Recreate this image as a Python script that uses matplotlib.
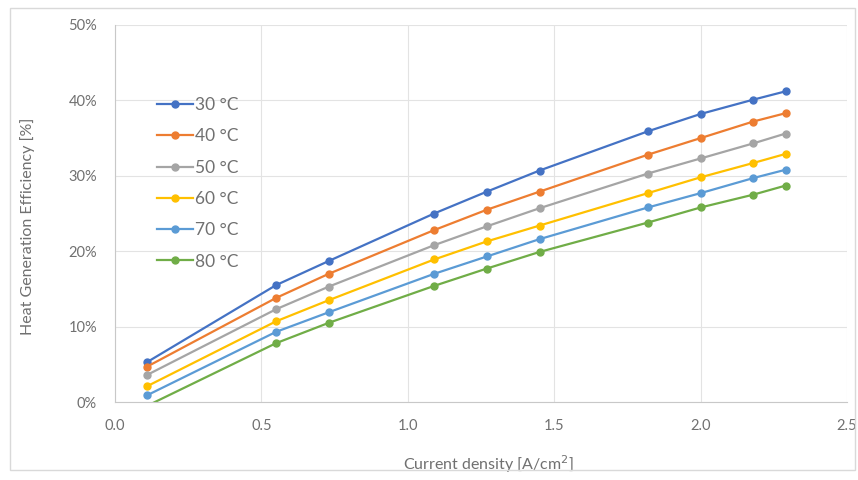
import matplotlib
matplotlib.use("Agg")
import matplotlib.pyplot as plt
from matplotlib.ticker import PercentFormatter, MultipleLocator
from matplotlib.patches import Rectangle

plt.rcParams['font.family'] = ['Lato', 'DejaVu Sans']

current_density = [0.11, 0.55, 0.73, 1.09, 1.27, 1.45, 1.82, 2.0, 2.18, 2.29]
eff_30 = [5.3, 15.5, 18.7, 25.0, 27.9, 30.7, 35.9, 38.2, 40.1, 41.2]
eff_40 = [4.7, 13.8, 17.0, 22.8, 25.5, 27.9, 32.8, 35.0, 37.2, 38.3]
eff_50 = [3.6, 12.3, 15.3, 20.8, 23.3, 25.7, 30.3, 32.3, 34.3, 35.6]
eff_60 = [2.1, 10.7, 13.5, 18.9, 21.3, 23.4, 27.7, 29.8, 31.7, 32.9]
eff_70 = [0.9, 9.3, 11.9, 17.0, 19.3, 21.6, 25.8, 27.7, 29.7, 30.8]
eff_80 = [-0.5, 7.8, 10.5, 15.4, 17.7, 19.9, 23.8, 25.8, 27.5, 28.7]

labels = ['30 °C', '40 °C', '50 °C', '60 °C', '70 °C', '80 °C']
series = [eff_30, eff_40, eff_50, eff_60, eff_70, eff_80]
colors = ['#4472C4', '#ED7D31', '#A5A5A5', '#FFC000', '#5B9BD5', '#70AD47']

txt = '#707070'

fig = plt.figure(figsize=(8.58, 4.8), dpi=100)
fig.patches.append(Rectangle((10/858, 10/480), 845/858, 462/480, transform=fig.transFigure,
                             fill=False, edgecolor='#D9D9D9', linewidth=1))
ax = fig.add_axes([115/858, 78/480, 732/858, 377/480])

for vals, lab, col in zip(series, labels, colors):
    ax.plot(current_density, vals, color=col, marker='o', markersize=5,
            linewidth=1.6, label=lab)

ax.set_xlim(0, 2.5)
ax.set_ylim(0, 50)
ax.xaxis.set_major_locator(MultipleLocator(0.5))
ax.yaxis.set_major_locator(MultipleLocator(10))
ax.xaxis.set_major_formatter(matplotlib.ticker.FormatStrFormatter('%.1f'))
ax.yaxis.set_major_formatter(PercentFormatter(decimals=0))
ax.grid(True, color='#E3E3E3', linewidth=0.8)
ax.set_axisbelow(True)
for s in ['top', 'right']:
    ax.spines[s].set_visible(False)
for s in ['left', 'bottom']:
    ax.spines[s].set_color('#C8C8C8')
ax.tick_params(axis='x', length=0, pad=12, labelsize=10.5, labelcolor=txt)
ax.tick_params(axis='y', length=0, pad=13, labelsize=10.5, labelcolor=txt)

ax.set_xlabel('Current density [A/cm$^2$]', fontsize=11.5, color=txt)
ax.set_ylabel('Heat Generation Efficiency [%]', fontsize=11.5, color=txt)
ax.xaxis.set_label_coords(0.51, -0.135)
ax.yaxis.set_label_coords(-0.109, 0.465)

leg = ax.legend(loc='upper left', bbox_to_anchor=(0.036, 0.85), frameon=False,
                fontsize=12.5, labelspacing=0.88, handlelength=2.1, handletextpad=0.1)
for t in leg.get_texts():
    t.set_color(txt)

fig.savefig('out.png', dpi=100)
